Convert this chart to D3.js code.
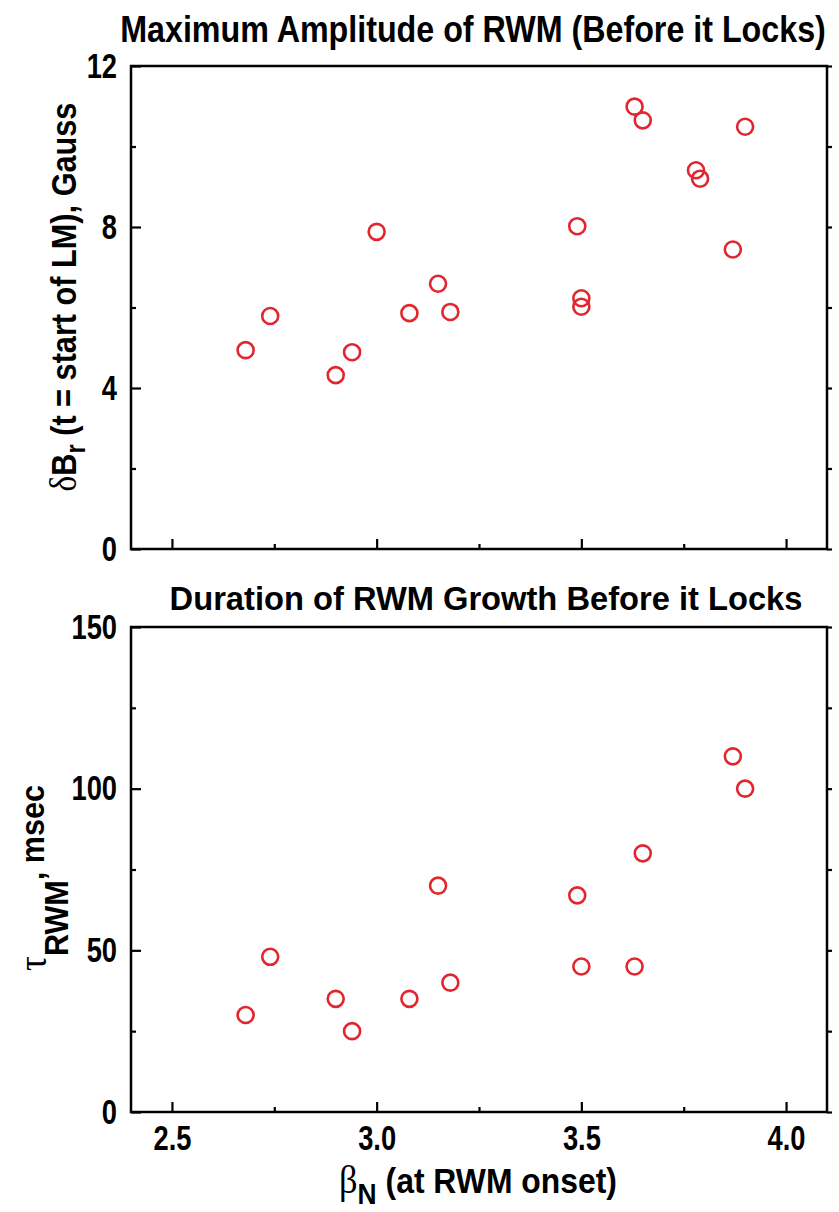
<!DOCTYPE html>
<html>
<head>
<meta charset="utf-8">
<script src="https://cdn.jsdelivr.net/npm/d3@7"></script>
<style>
  html, body { margin: 0; padding: 0; background: #fff; }
  svg { display: block; }
  text { font-family: "Liberation Sans", Arial, Helvetica, sans-serif; font-weight: bold; fill: #000; }
  .greek { font-family: "Liberation Serif", "DejaVu Serif", serif; font-weight: normal; }
</style>
</head>
<body>
<svg id="chart" width="839" height="1212"></svg>
<script>
// beta_N at RWM onset for each discharge (upper panel: 17 shots, lower panel: 13 shots)
const betaAmp = [2.68, 2.74, 2.90, 2.94, 3.00, 3.08, 3.15, 3.18, 3.49, 3.50, 3.50, 3.63, 3.65, 3.78, 3.79, 3.87, 3.90];
// maximum dBr before the mode locks, Gauss
const dBr = [4.94, 5.79, 4.32, 4.89, 7.88, 5.86, 6.59, 5.89, 8.02, 6.23, 6.02, 10.99, 10.65, 9.41, 9.20, 7.44, 10.49];

const betaDur = [2.68, 2.74, 2.90, 2.94, 3.08, 3.15, 3.18, 3.49, 3.50, 3.63, 3.65, 3.87, 3.90];
// growth time of the RWM before locking, msec
const tauRWM = [30, 48, 35, 25, 35, 70, 40, 67, 45, 45, 80, 110, 100];

const xMajor = [2.5, 3.0, 3.5, 4.0];
const xMinor = [2.75, 3.25, 3.75];
const yMajorAmp = [0, 4, 8, 12];
const yMinorAmp = [2, 6, 10];
const yMajorDur = [0, 50, 100, 150];
const yMinorDur = [25, 75, 125];

const svg = d3.select("#chart");
const RED = "#e2262f";

const x = d3.scaleLinear().domain([2.4, 4.1]).range([131, 827]);
const yAmp = d3.scaleLinear().domain([0, 12]).range([549, 66]);
const yDur = d3.scaleLinear().domain([0, 150]).range([1112, 627]);

// squeeze a text element horizontally to mimic a condensed face
function condense(sel, k) {
  sel.each(function () {
    const w = this.getComputedTextLength();
    d3.select(this).attr("textLength", w * k).attr("lengthAdjust", "spacingAndGlyphs");
  });
}

// place a centred text at (cx, cy), optionally rotated, scaled horizontally to a given width
function fitText(sel, cx, cy, width, angle) {
  const w = sel.node().getComputedTextLength();
  const k = width / w;
  sel.attr("text-anchor", "middle")
    .attr("transform", `translate(${cx},${cy}) rotate(${angle || 0}) scale(${k},1)`);
}

function panel(y, majorY, minorY, xs, ys, showXLabels) {
  const g = svg.append("g");
  const [x0, x1] = x.range();
  const [yb, yt] = y.range();

  // frame
  g.append("rect")
    .attr("x", x0).attr("y", yt)
    .attr("width", x1 - x0).attr("height", yb - yt)
    .attr("fill", "none").attr("stroke", "#000").attr("stroke-width", 2.5);

  // left axis (inward ticks)
  const left = g.append("g").attr("transform", `translate(${x0},0)`)
    .call(d3.axisLeft(y).tickValues(majorY).tickSize(-10).tickPadding(14).tickFormat(d3.format("d")));
  left.append("g").call(d3.axisLeft(y).tickValues(minorY).tickSize(-5).tickFormat(""));

  // right axis (short outward ticks)
  g.append("g").attr("transform", `translate(${x1},0)`)
    .call(d3.axisRight(y).tickValues(majorY.concat(minorY)).tickSize(5).tickFormat(""));

  // bottom axis (inward ticks)
  const bottom = g.append("g").attr("transform", `translate(0,${yb})`)
    .call(d3.axisBottom(x).tickValues(xMajor).tickSize(-10).tickPadding(13)
      .tickFormat(showXLabels ? d3.format(".1f") : ""));
  bottom.append("g").call(d3.axisBottom(x).tickValues(xMinor).tickSize(-5).tickFormat(""));

  g.selectAll(".domain").remove();
  g.selectAll(".tick line").attr("stroke", "#000").attr("stroke-width", 2.2);
  const labels = g.selectAll(".tick text")
    .attr("font-size", 35).attr("font-family", "Liberation Sans, Arial, sans-serif")
    .attr("font-weight", "bold").attr("fill", "#000");
  condense(labels.filter(function () { return this.textContent !== ""; }), 0.78);

  // markers
  g.append("g").selectAll("circle")
    .data(xs.map((v, i) => [v, ys[i]]))
    .join("circle")
    .attr("cx", d => x(d[0]))
    .attr("cy", d => y(d[1]))
    .attr("r", 8)
    .attr("fill", "none")
    .attr("stroke", RED)
    .attr("stroke-width", 2.6);
}

panel(yAmp, yMajorAmp, yMinorAmp, betaAmp, dBr, false);
panel(yDur, yMajorDur, yMinorDur, betaDur, tauRWM, true);

// titles
const t1 = svg.append("text").attr("font-size", 37)
  .text("Maximum Amplitude of RWM (Before it Locks)");
fitText(t1, 473, 42, 706);

const t2 = svg.append("text").attr("font-size", 33)
  .text("Duration of RWM Growth Before it Locks");
fitText(t2, 486, 610, 633);

// y label, upper panel
const yl1 = svg.append("text").attr("font-size", 35);
yl1.append("tspan").attr("class", "greek").attr("font-size", 38).text("δ");
yl1.append("tspan").text("B");
yl1.append("tspan").attr("font-size", 27).attr("dy", 9).text("r");
yl1.append("tspan").attr("dy", -9).text(" (t = start of LM), Gauss");
fitText(yl1, 76, 297, 389, -90);

// y label, lower panel
const yl2 = svg.append("text").attr("font-size", 33);
yl2.append("tspan").attr("class", "greek").attr("font-size", 40).text("τ");
yl2.append("tspan").attr("dy", 22).text("RWM");
yl2.append("tspan").attr("dy", -24).text(", msec");
fitText(yl2, 46, 878, 186, -90);

// x label
const xl = svg.append("text").attr("font-size", 35);
xl.append("tspan").attr("class", "greek").attr("font-size", 40).text("β");
xl.append("tspan").attr("font-size", 29).attr("dy", 11).text("N");
xl.append("tspan").attr("dy", -11).text(" (at RWM onset)");
fitText(xl, 478, 1193, 278);
</script>
</body>
</html>
